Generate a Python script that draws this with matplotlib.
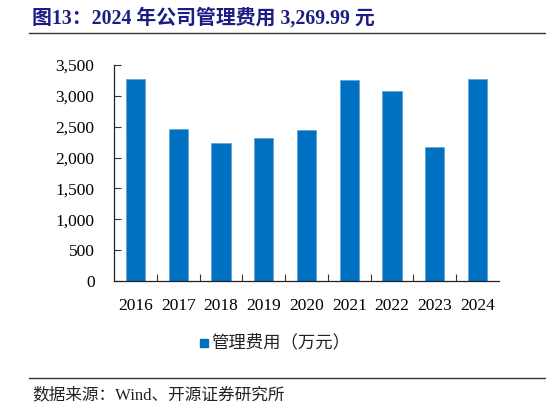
import matplotlib
matplotlib.use('Agg')
import matplotlib.pyplot as plt
from matplotlib.lines import Line2D
from matplotlib.patches import Rectangle

# Data (unit: 10k yuan)
years = ['2016', '2017', '2018', '2019', '2020', '2021', '2022', '2023', '2024']
admin_cost = [3275, 2470, 2240, 2320, 2445, 3262, 3080, 2170, 3269.99]
yticks = [0, 500, 1000, 1500, 2000, 2500, 3000, 3500]

title = '图13：2024 年公司管理费用 3,269.99 元'
legend_label = '管理费用（万元）'
source = '数据来源：Wind、开源证券研究所'

serif_cjk = ['Liberation Serif', 'Noto Sans CJK SC', 'DejaVu Sans']
plt.rcParams['font.family'] = serif_cjk

bar_color = '#0070C0'
title_color = '#1c1c85'

fig = plt.figure(figsize=(5.46, 4.08), dpi=100)
ax = fig.add_axes([0.2088, 0.311, 0.705, 0.530])

x = range(len(years))
ax.bar(x, admin_cost, width=0.45, color=bar_color, edgecolor='#5a9fd8', linewidth=0.5)

ax.set_xlim(-0.5, len(years) - 0.5)
ax.set_ylim(0, 3500)
ax.set_yticks(yticks)
ax.set_yticklabels(['{:,}'.format(v) for v in yticks], fontsize=12.5)
# boundary ticks between categories, labels sit on minor ticks at centres
ax.set_xticks([i + 0.5 for i in range(len(years) - 1)], minor=False)
ax.set_xticklabels([])
ax.set_xticks(list(x), minor=True)
ax.set_xticklabels(years, minor=True, fontsize=12.5)
ax.tick_params(axis='x', which='major', direction='in', length=5, width=0.8, color='#333333')
ax.tick_params(axis='x', which='minor', length=0, pad=12)
ax.tick_params(axis='y', direction='in', length=5, width=0.8, color='#333333', pad=14)

for side in ['top', 'right']:
    ax.spines[side].set_visible(False)
for side in ['left', 'bottom']:
    ax.spines[side].set_color('#222222')
    ax.spines[side].set_linewidth(0.9)

# Title and rules
fig.text(32 / 546, 1 - 18 / 408, title, fontsize=14.3, fontweight='bold',
         color=title_color, va='center', ha='left')
fig.add_artist(Line2D([29 / 546, 1.0], [1 - 33 / 408] * 2, color='#333333', lw=1.0))
fig.add_artist(Line2D([29 / 546, 1.0], [1 - 378 / 408] * 2, color='#333333', lw=1.0))

# Legend (square marker + label)
fig.add_artist(Rectangle((200 / 546, 1 - 347 / 408), 8 / 546, 8 / 408,
                         transform=fig.transFigure, color=bar_color))
fig.text(211 / 546, 1 - 343 / 408, legend_label, fontsize=12.5, color='#222222',
         va='center', ha='left')

fig.text(32 / 546, 1 - 395 / 408, source, fontsize=12, color='#222222',
         va='center', ha='left')

plt.savefig('out.png', dpi=100)
